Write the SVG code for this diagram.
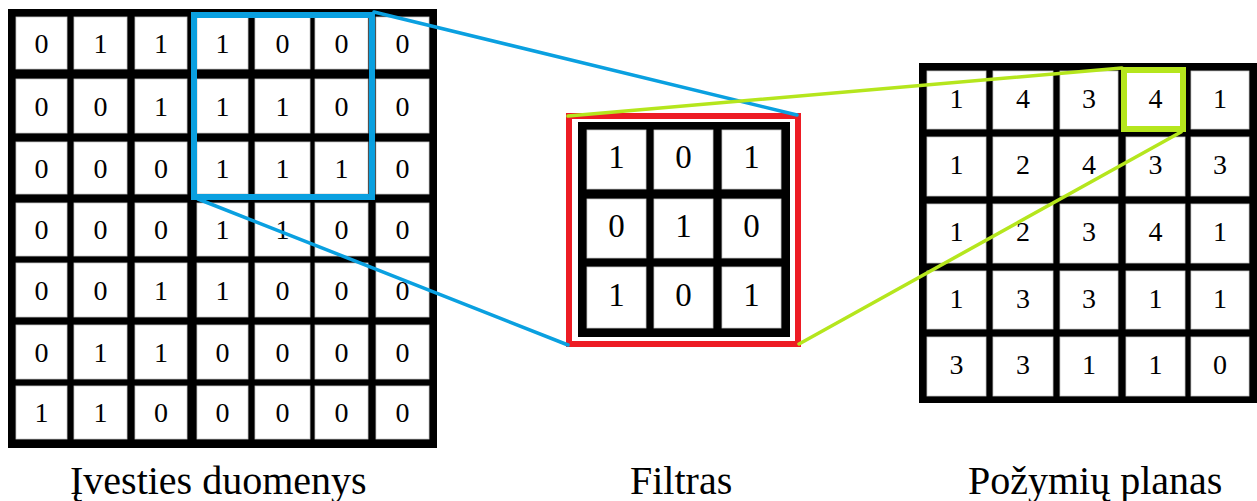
<svg xmlns="http://www.w3.org/2000/svg" width="1257" height="501" viewBox="0 0 1257 501">
<style>
.bg{fill:#000}
.c{fill:#fff;stroke:#c8c8c8;stroke-width:0.8}
.d{font-family:"Liberation Serif","Times New Roman",serif;fill:#000;text-anchor:middle}
.dl{font-size:28px}
.df{font-size:33px}
.dr{font-size:28px}
.lab{font-family:"Liberation Serif","Times New Roman",serif;font-size:40px;fill:#000}
.blue{fill:none;stroke:#0aa0e0}
.green{fill:none;stroke:#b5e61d}
.red{fill:none;stroke:#ed1c24;stroke-width:6}
</style>
<rect width="1257" height="501" fill="#fff"/>

<g id="input-grid">
<rect class="bg" x="8" y="9" width="429" height="439"/>
<g>
<rect class="c" x="16" y="17" width="51" height="52"/><rect class="c" x="74" y="17" width="53" height="52"/><rect class="c" x="135" y="17" width="52" height="52"/><rect class="c" x="197" y="17" width="51" height="52"/><rect class="c" x="255" y="17" width="55" height="52"/><rect class="c" x="315" y="17" width="53" height="52"/><rect class="c" x="376" y="17" width="53" height="52"/>
<rect class="c" x="16" y="79" width="51" height="54"/><rect class="c" x="74" y="79" width="53" height="54"/><rect class="c" x="135" y="79" width="52" height="54"/><rect class="c" x="197" y="79" width="51" height="54"/><rect class="c" x="255" y="79" width="55" height="54"/><rect class="c" x="315" y="79" width="53" height="54"/><rect class="c" x="376" y="79" width="53" height="54"/>
<rect class="c" x="16" y="142" width="51" height="52"/><rect class="c" x="74" y="142" width="53" height="52"/><rect class="c" x="135" y="142" width="52" height="52"/><rect class="c" x="197" y="142" width="51" height="52"/><rect class="c" x="255" y="142" width="55" height="52"/><rect class="c" x="315" y="142" width="53" height="52"/><rect class="c" x="376" y="142" width="53" height="52"/>
<rect class="c" x="16" y="203" width="51" height="53"/><rect class="c" x="74" y="203" width="53" height="53"/><rect class="c" x="135" y="203" width="52" height="53"/><rect class="c" x="197" y="203" width="51" height="53"/><rect class="c" x="255" y="203" width="55" height="53"/><rect class="c" x="315" y="203" width="53" height="53"/><rect class="c" x="376" y="203" width="53" height="53"/>
<rect class="c" x="16" y="263" width="51" height="54"/><rect class="c" x="74" y="263" width="53" height="54"/><rect class="c" x="135" y="263" width="52" height="54"/><rect class="c" x="197" y="263" width="51" height="54"/><rect class="c" x="255" y="263" width="55" height="54"/><rect class="c" x="315" y="263" width="53" height="54"/><rect class="c" x="376" y="263" width="53" height="54"/>
<rect class="c" x="16" y="325" width="51" height="54"/><rect class="c" x="74" y="325" width="53" height="54"/><rect class="c" x="135" y="325" width="52" height="54"/><rect class="c" x="197" y="325" width="51" height="54"/><rect class="c" x="255" y="325" width="55" height="54"/><rect class="c" x="315" y="325" width="53" height="54"/><rect class="c" x="376" y="325" width="53" height="54"/>
<rect class="c" x="16" y="386" width="51" height="53"/><rect class="c" x="74" y="386" width="53" height="53"/><rect class="c" x="135" y="386" width="52" height="53"/><rect class="c" x="197" y="386" width="51" height="53"/><rect class="c" x="255" y="386" width="55" height="53"/><rect class="c" x="315" y="386" width="53" height="53"/><rect class="c" x="376" y="386" width="53" height="53"/>
</g>
<g class="d dl">
<text x="41.5" y="52.5">0</text><text x="100.5" y="52.5">1</text><text x="161" y="52.5">1</text><text x="222.5" y="52.5">1</text><text x="282.5" y="52.5">0</text><text x="341.5" y="52.5">0</text><text x="402.5" y="52.5">0</text>
<text x="41.5" y="115.5">0</text><text x="100.5" y="115.5">0</text><text x="161" y="115.5">1</text><text x="222.5" y="115.5">1</text><text x="282.5" y="115.5">1</text><text x="341.5" y="115.5">0</text><text x="402.5" y="115.5">0</text>
<text x="41.5" y="177.5">0</text><text x="100.5" y="177.5">0</text><text x="161" y="177.5">0</text><text x="222.5" y="177.5">1</text><text x="282.5" y="177.5">1</text><text x="341.5" y="177.5">1</text><text x="402.5" y="177.5">0</text>
<text x="41.5" y="239">0</text><text x="100.5" y="239">0</text><text x="161" y="239">0</text><text x="222.5" y="239">1</text><text x="282.5" y="239">1</text><text x="341.5" y="239">0</text><text x="402.5" y="239">0</text>
<text x="41.5" y="299.5">0</text><text x="100.5" y="299.5">0</text><text x="161" y="299.5">1</text><text x="222.5" y="299.5">1</text><text x="282.5" y="299.5">0</text><text x="341.5" y="299.5">0</text><text x="402.5" y="299.5">0</text>
<text x="41.5" y="361.5">0</text><text x="100.5" y="361.5">1</text><text x="161" y="361.5">1</text><text x="222.5" y="361.5">0</text><text x="282.5" y="361.5">0</text><text x="341.5" y="361.5">0</text><text x="402.5" y="361.5">0</text>
<text x="41.5" y="422">1</text><text x="100.5" y="422">1</text><text x="161" y="422">0</text><text x="222.5" y="422">0</text><text x="282.5" y="422">0</text><text x="341.5" y="422">0</text><text x="402.5" y="422">0</text>
</g>
<text class="lab" x="70" y="494">Įvesties duomenys</text>
</g>

<g id="input-window">
<rect class="blue" x="194" y="15" width="178" height="182" stroke-width="6"/>
</g>

<g id="filter">
<rect class="red" x="569" y="116" width="229" height="228"/>
<rect class="bg" x="578" y="122" width="212" height="215"/>
<rect class="c" x="587" y="130" width="59" height="59"/><rect class="c" x="654" y="130" width="59" height="59"/><rect class="c" x="722" y="130" width="59" height="59"/>
<rect class="c" x="587" y="199" width="59" height="59"/><rect class="c" x="654" y="199" width="59" height="59"/><rect class="c" x="722" y="199" width="59" height="59"/>
<rect class="c" x="587" y="267" width="59" height="61"/><rect class="c" x="654" y="267" width="59" height="61"/><rect class="c" x="722" y="267" width="59" height="61"/>
<g class="d df">
<text x="616.5" y="168">1</text><text x="683.5" y="168">0</text><text x="751.5" y="168">1</text>
<text x="616.5" y="237">0</text><text x="683.5" y="237">1</text><text x="751.5" y="237">0</text>
<text x="616.5" y="306">1</text><text x="683.5" y="306">0</text><text x="751.5" y="306">1</text>
</g>
<text class="lab" x="630" y="494">Filtras</text>
</g>

<g id="feature-map">
<rect class="bg" x="919" y="63" width="338" height="340"/>
<rect class="c" x="927" y="71" width="59" height="58"/><rect class="c" x="993" y="71" width="60" height="58"/><rect class="c" x="1060" y="71" width="58" height="58"/><rect class="c" x="1126" y="71" width="59" height="58"/><rect class="c" x="1191" y="71" width="58" height="58"/>
<rect class="c" x="927" y="137" width="59" height="59"/><rect class="c" x="993" y="137" width="60" height="59"/><rect class="c" x="1060" y="137" width="58" height="59"/><rect class="c" x="1126" y="137" width="59" height="59"/><rect class="c" x="1191" y="137" width="58" height="59"/>
<rect class="c" x="927" y="204" width="59" height="59"/><rect class="c" x="993" y="204" width="60" height="59"/><rect class="c" x="1060" y="204" width="58" height="59"/><rect class="c" x="1126" y="204" width="59" height="59"/><rect class="c" x="1191" y="204" width="58" height="59"/>
<rect class="c" x="927" y="271" width="59" height="58"/><rect class="c" x="993" y="271" width="60" height="58"/><rect class="c" x="1060" y="271" width="58" height="58"/><rect class="c" x="1126" y="271" width="59" height="58"/><rect class="c" x="1191" y="271" width="58" height="58"/>
<rect class="c" x="927" y="337" width="59" height="59"/><rect class="c" x="993" y="337" width="60" height="59"/><rect class="c" x="1060" y="337" width="58" height="59"/><rect class="c" x="1126" y="337" width="59" height="59"/><rect class="c" x="1191" y="337" width="58" height="59"/>
<g class="d dr">
<text x="956.5" y="107.5">1</text><text x="1023" y="107.5">4</text><text x="1089" y="107.5">3</text><text x="1155.5" y="107.5">4</text><text x="1220" y="107.5">1</text>
<text x="956.5" y="174">1</text><text x="1023" y="174">2</text><text x="1089" y="174">4</text><text x="1155.5" y="174">3</text><text x="1220" y="174">3</text>
<text x="956.5" y="241">1</text><text x="1023" y="241">2</text><text x="1089" y="241">3</text><text x="1155.5" y="241">4</text><text x="1220" y="241">1</text>
<text x="956.5" y="307.5">1</text><text x="1023" y="307.5">3</text><text x="1089" y="307.5">3</text><text x="1155.5" y="307.5">1</text><text x="1220" y="307.5">1</text>
<text x="956.5" y="374">3</text><text x="1023" y="374">3</text><text x="1089" y="374">1</text><text x="1155.5" y="374">1</text><text x="1220" y="374">0</text>
</g>
<text class="lab" x="968" y="494">Požymių planas</text>
</g>

<g id="output-cell">
<rect class="green" x="1124" y="70" width="59" height="59" stroke-width="6"/>
</g>

<g id="connectors" stroke-width="3.5" stroke-linecap="round">
<line class="blue" x1="374" y1="12" x2="797" y2="115"/>
<line class="blue" x1="198" y1="199" x2="568" y2="345"/>
<line class="green" x1="568" y1="116" x2="1122" y2="68"/>
<line class="green" x1="799" y1="344" x2="1181" y2="132"/>
</g>
</svg>
